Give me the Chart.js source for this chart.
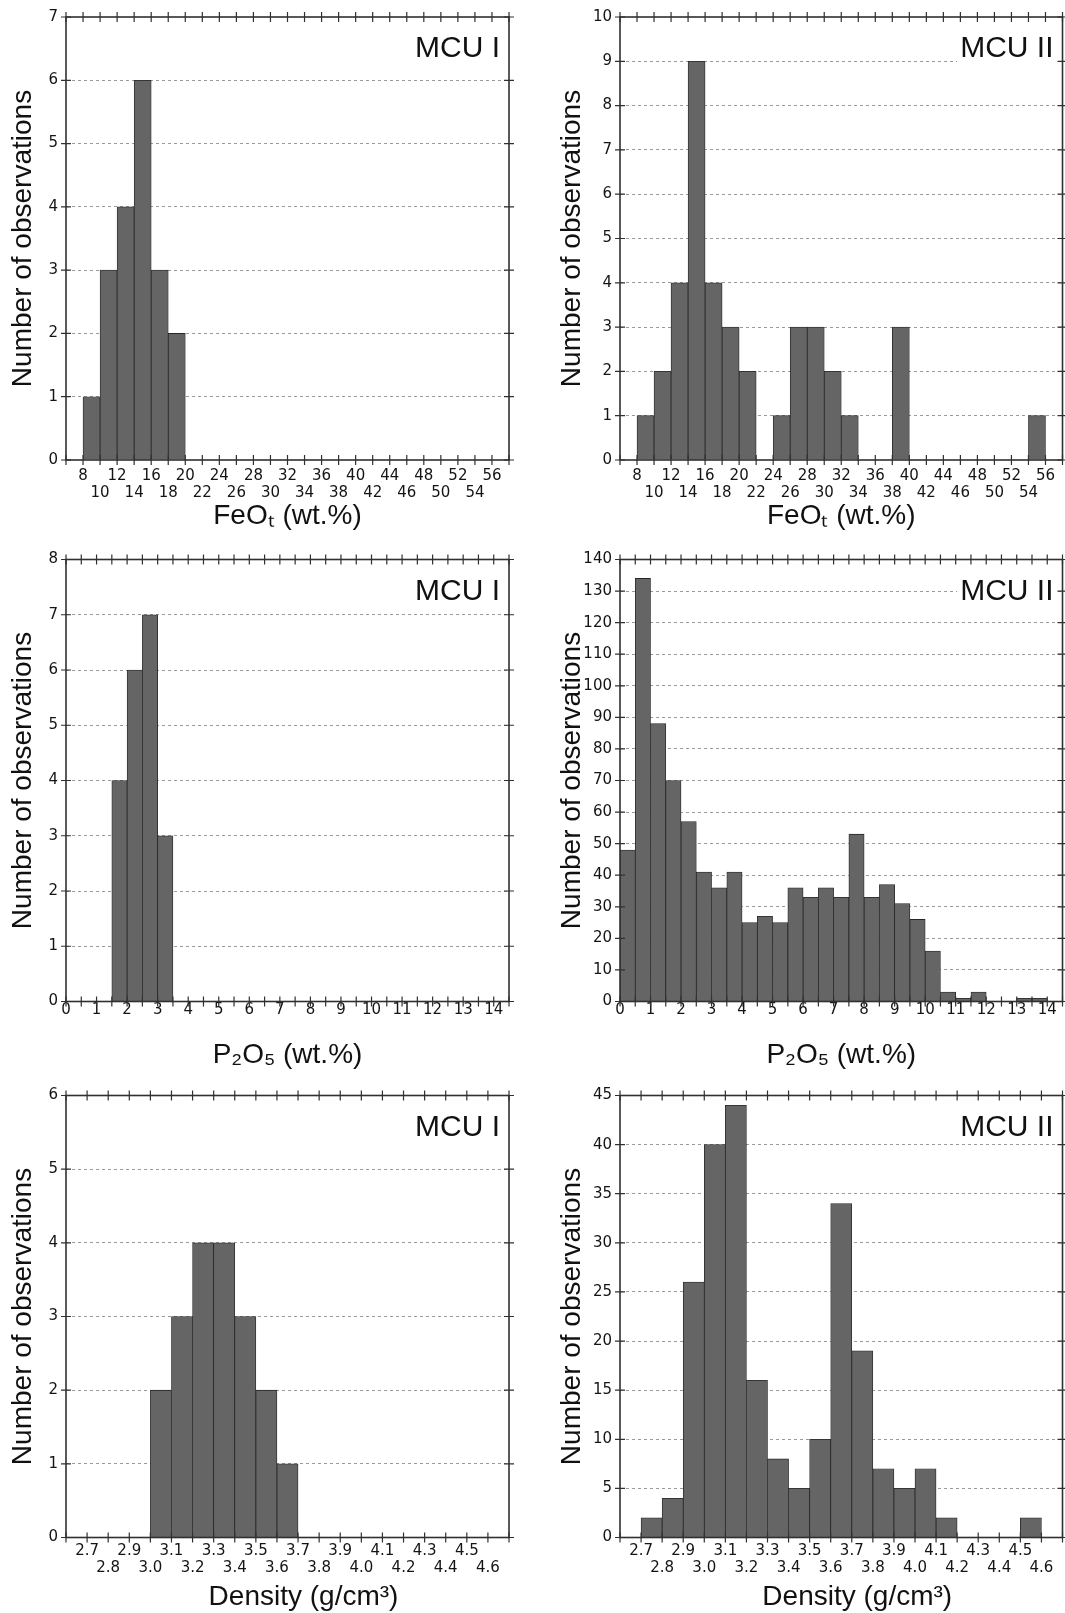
<!DOCTYPE html>
<html>
<head>
<meta charset="utf-8">
<script src="https://cdn.jsdelivr.net/npm/chart.js@4.4.1/dist/chart.umd.min.js"></script>
<style>
  html, body { margin: 0; padding: 0; background: #ffffff; }
  body { width: 1065px; height: 1613px; position: relative; overflow: hidden; }
  canvas { position: absolute; }
</style>
</head>
<body>
<canvas id="c1" width="530" height="535" style="left:0px;top:0px;"></canvas>
<canvas id="c2" width="535" height="535" style="left:530px;top:0px;"></canvas>
<canvas id="c3" width="530" height="540" style="left:0px;top:535px;"></canvas>
<canvas id="c4" width="535" height="540" style="left:530px;top:535px;"></canvas>
<canvas id="c5" width="530" height="543" style="left:0px;top:1070px;"></canvas>
<canvas id="c6" width="535" height="543" style="left:530px;top:1070px;"></canvas>
<script>
// ---------------- DATA ----------------
// FeOt (wt.%) histograms, bin width 2 (bin start values)
const feoBins1   = [8, 10, 12, 14, 16, 18];
const feoCounts1 = [1, 3, 4, 6, 3, 2];
const feoBins2   = [8, 10, 12, 14, 16, 18, 20, 22, 24, 26, 28, 30, 32, 34, 36, 38, 40, 42, 44, 46, 48, 50, 52, 54];
const feoCounts2 = [1, 2, 4, 9, 4, 3, 2, 0, 1, 3, 3, 2, 1, 0, 0, 3, 0, 0, 0, 0, 0, 0, 0, 1];

// P2O5 (wt.%) histograms, bin width 0.5
const p2o5Bins1   = [1.5, 2.0, 2.5, 3.0];
const p2o5Counts1 = [4, 6, 7, 3];
const p2o5Bins2   = [0, 0.5, 1, 1.5, 2, 2.5, 3, 3.5, 4, 4.5, 5, 5.5, 6, 6.5, 7, 7.5, 8, 8.5, 9, 9.5, 10, 10.5, 11, 11.5, 12, 12.5, 13, 13.5];
const p2o5Counts2 = [48, 134, 88, 70, 57, 41, 36, 41, 25, 27, 25, 36, 33, 36, 33, 53, 33, 37, 31, 26, 16, 3, 1, 3, 0, 0, 1, 1];

// Density (g/cm3) histograms, bin width 0.1
const densBins1   = [3.0, 3.1, 3.2, 3.3, 3.4, 3.5, 3.6];
const densCounts1 = [2, 3, 4, 4, 3, 2, 1];
const densBins2   = [2.7, 2.8, 2.9, 3.0, 3.1, 3.2, 3.3, 3.4, 3.5, 3.6, 3.7, 3.8, 3.9, 4.0, 4.1, 4.2, 4.3, 4.4, 4.5];
const densCounts2 = [2, 4, 26, 40, 44, 16, 8, 5, 10, 34, 19, 7, 5, 7, 2, 0, 0, 0, 2];

// Tick labels
const feoTickLabels  = [8, 10, 12, 14, 16, 18, 20, 22, 24, 26, 28, 30, 32, 34, 36, 38, 40, 42, 44, 46, 48, 50, 52, 54, 56];
const p2o5TickLabels = [0, 1, 2, 3, 4, 5, 6, 7, 8, 9, 10, 11, 12, 13, 14];
const densTickLabels = [2.7, 2.8, 2.9, 3.0, 3.1, 3.2, 3.3, 3.4, 3.5, 3.6, 3.7, 3.8, 3.9, 4.0, 4.1, 4.2, 4.3, 4.4, 4.5, 4.6];

// Text
const yTitle = 'Number of observations';
const feoTitle = 'FeO\u209C (wt.%)';
const p2o5Title = 'P\u2082O\u2085 (wt.%)';
const densTitle = 'Density (g/cm\u00B3)';
const unitLabels = ['MCU I', 'MCU II'];

// ---------------- RENDERING ----------------
const FONT = '"Liberation Sans", Arial, Helvetica, sans-serif';
const TICKFONT = '"DejaVu Sans", "Liberation Sans", Arial, sans-serif';
Chart.defaults.font.family = FONT;
Chart.defaults.color = '#141414';

function marksFrom(min, max, step) {
  const out = [];
  const n = Math.round((max - min) / step);
  for (let i = 0; i <= n; i++) out.push(+(min + i * step).toFixed(4));
  return out;
}

function framePlugin(p) {
  return {
    id: 'frameTicks',
    afterDatasetsDraw(chart) {
      const { ctx, chartArea: a, scales } = chart;
      const x = scales.x, y = scales.y;
      ctx.save();
      ctx.strokeStyle = '#303030';
      ctx.lineWidth = 1.2;
      ctx.beginPath();
      p.marks.forEach(v => {
        const px = x.getPixelForValue(v);
        ctx.moveTo(px, a.bottom - 5); ctx.lineTo(px, a.bottom + 5);
        ctx.moveTo(px, a.top - 5); ctx.lineTo(px, a.top + 5);
      });
      y.ticks.forEach(t => {
        const py = y.getPixelForValue(t.value);
        ctx.moveTo(a.left - 5, py); ctx.lineTo(a.left + 5, py);
        ctx.moveTo(a.right - 5, py); ctx.lineTo(a.right + 5, py);
      });
      ctx.stroke();
      ctx.lineWidth = 1.6;
      ctx.strokeRect(a.left, a.top, a.right - a.left, a.bottom - a.top);

      // unit label (MCU I / MCU II)
      ctx.font = '30px ' + FONT;
      ctx.textAlign = 'right';
      ctx.textBaseline = 'middle';
      const w = ctx.measureText(p.label).width;
      const lx = a.right - 9, ly = a.top + 32;
      ctx.fillStyle = '#ffffff';
      ctx.fillRect(lx - w - 3, ly - 14, w + 6, 28);
      ctx.fillStyle = '#111111';
      ctx.fillText(p.label, lx, ly);

      // x-axis title
      ctx.font = '28px ' + FONT;
      ctx.textAlign = 'center';
      ctx.fillText(p.xTitle, (a.left + a.right) / 2 + p.titleDx, a.bottom + p.titleDy);
      ctx.restore();
    }
  };
}

function makeChart(id, p) {
  const pts = p.bins.map((b, i) => ({ x: b + p.binWidth / 2, y: p.counts[i] }));
  const yMax = p.yMax;
  return new Chart(document.getElementById(id), {
    type: 'bar',
    data: {
      datasets: [{
        data: pts,
        backgroundColor: '#656565',
        borderColor: '#262626',
        borderWidth: 0.8,
        barPercentage: 1,
        categoryPercentage: 1
      }]
    },
    options: {
      responsive: false,
      animation: false,
      devicePixelRatio: 1,
      layout: { autoPadding: false, padding: { left: 0, right: p.padRight, top: p.padTop, bottom: 0 } },
      plugins: { legend: { display: false }, tooltip: { enabled: false } },
      scales: {
        x: {
          type: 'linear',
          offset: false,
          min: p.xMin,
          max: p.xMax,
          afterBuildTicks: s => { s.ticks = p.xTicks.map(v => ({ value: v })); },
          afterFit: s => { s.height = p.xHeight; },
          grid: { display: false, drawTicks: false, offset: false },
          border: { display: false },
          ticks: {
            autoSkip: false, maxRotation: 0, minRotation: 0,
            padding: p.tickPad,
            color: '#141414',
            font: { family: TICKFONT, size: 15, lineHeight: '17px' },
            callback: (v, i) => {
              const s = p.decimals ? Number(v).toFixed(p.decimals) : String(v);
              return p.stagger ? (i % 2 ? ['', s] : s) : s;
            }
          },
          title: { display: false }
        },
        y: {
          min: 0,
          max: yMax,
          afterFit: s => { s.width = p.yWidth; },
          ticks: { stepSize: p.yStep, padding: 8, color: '#141414', font: { family: TICKFONT, size: 15 } },
          grid: {
            drawTicks: false,
            lineWidth: 1,
            color: c => (c.tick && (c.tick.value === 0 || c.tick.value === yMax)) ? 'rgba(0,0,0,0)' : '#9a9a9a'
          },
          border: { display: false, dash: [3, 3] },
          title: { display: true, text: yTitle, color: '#111111', font: { size: 28 }, padding: { top: p.yTitlePad, bottom: 0 } }
        }
      }
    },
    plugins: [framePlugin(p)]
  });
}

const leftCol  = { padRight: 21, yWidth: 66, yTitlePad: 6.5, label: unitLabels[0] };
const rightCol = { padRight: 2.5, yWidth: 90, yTitlePad: 25, label: unitLabels[1] };
const feoAxis  = { binWidth: 2, xMin: 6, xMax: 58, xTicks: feoTickLabels, stagger: true, decimals: 0,
                   tickPad: 7.5, marks: marksFrom(6, 58, 2), xTitle: feoTitle, titleDx: 0, titleDy: 56,
                   padTop: 16, xHeight: 75 };
const p2o5Axis = { binWidth: 0.5, xMin: 0, xMax: 14.5, xTicks: p2o5TickLabels, stagger: false, decimals: 0,
                   tickPad: 0, marks: marksFrom(0, 14.5, 0.5), xTitle: p2o5Title, titleDx: 0, titleDy: 54,
                   padTop: 24.5, xHeight: 73.5 };
const densAxis = { binWidth: 0.1, xMin: 2.6, xMax: 4.7, xTicks: densTickLabels, stagger: true, decimals: 1,
                   tickPad: 5.5, marks: marksFrom(2.6, 4.7, 0.1), xTitle: densTitle, titleDx: 16, titleDy: 60,
                   padTop: 25.5, xHeight: 75.5 };

makeChart('c1', Object.assign({}, leftCol,  feoAxis,  { bins: feoBins1,  counts: feoCounts1,  yMax: 7,   yStep: 1 }));
makeChart('c2', Object.assign({}, rightCol, feoAxis,  { bins: feoBins2,  counts: feoCounts2,  yMax: 10,  yStep: 1 }));
makeChart('c3', Object.assign({}, leftCol,  p2o5Axis, { bins: p2o5Bins1, counts: p2o5Counts1, yMax: 8,   yStep: 1 }));
makeChart('c4', Object.assign({}, rightCol, p2o5Axis, { bins: p2o5Bins2, counts: p2o5Counts2, yMax: 140, yStep: 10 }));
makeChart('c5', Object.assign({}, leftCol,  densAxis, { bins: densBins1, counts: densCounts1, yMax: 6,   yStep: 1 }));
makeChart('c6', Object.assign({}, rightCol, densAxis, { bins: densBins2, counts: densCounts2, yMax: 45,  yStep: 5 }));
</script>
</body>
</html>
